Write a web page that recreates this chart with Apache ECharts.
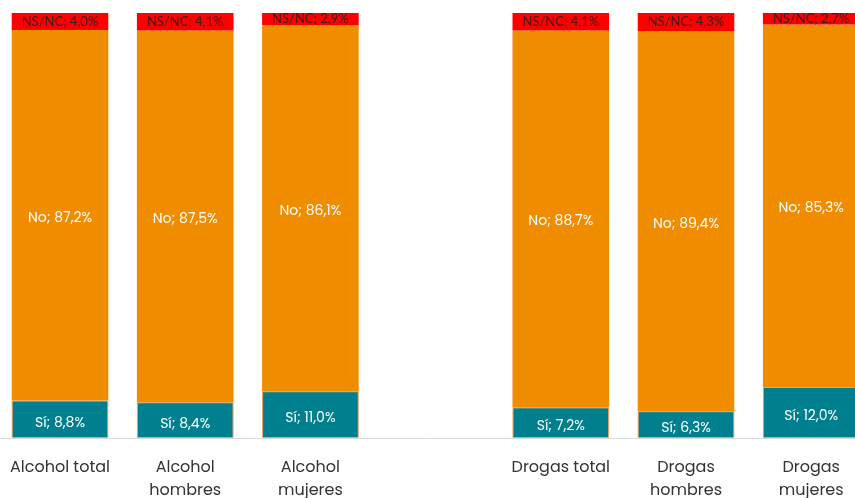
<!DOCTYPE html>
<html>
<head>
<meta charset="utf-8">
<script src="https://cdn.jsdelivr.net/npm/echarts@6/dist/echarts.min.js"></script>
<style>html,body{margin:0;padding:0;background:#fff;}#c{width:855px;height:498px;}</style>
</head>
<body>
<div id="c"></div>
<script>
const categories = ['Alcohol total', 'Alcohol\nhombres', 'Alcohol\nmujeres', '', 'Drogas total', 'Drogas\nhombres', 'Drogas\nmujeres'];
const siValues = [8.8, 8.4, 11.0, null, 7.2, 6.3, 12.0];
const noValues = [87.2, 87.5, 86.1, null, 88.7, 89.4, 85.3];
const nsncValues = [4.0, 4.1, 2.9, null, 4.1, 4.3, 2.7];

const fmt = (name) => (p) => p.value == null ? '' : name + '; ' + p.value.toFixed(1).replace('.', ',') + '%';
const FONT = 'Poppins, Inter, sans-serif';

const chart = echarts.init(document.getElementById('c'));
chart.setOption({
  animation: false,
  grid: { left: -2.6, width: 876.4, top: 13, height: 425, containLabel: false, outerBoundsMode: 'none' },
  xAxis: {
    type: 'category',
    data: categories,
    axisLine: { show: true, lineStyle: { color: '#d9d9d9', width: 1 } },
    axisTick: { show: false },
    axisLabel: { color: '#333', fontSize: 16, fontFamily: FONT, margin: 18, lineHeight: 23, interval: 0 }
  },
  yAxis: { type: 'value', min: 0, max: 100, show: false, splitLine: { show: false } },
  series: [
    {
      name: 'Sí', type: 'bar', stack: 'a', data: siValues, barWidth: 96.6,
      itemStyle: { color: '#00808F', borderColor: '#E9A060', borderWidth: 1 },
      label: { show: true, position: 'inside', offset: [0, 4], color: '#fff', fontSize: 14, fontFamily: FONT, formatter: fmt('Sí') }
    },
    {
      name: 'No', type: 'bar', stack: 'a', data: noValues, barWidth: 96.6,
      itemStyle: { color: '#F08C00' },
      label: { show: true, position: 'inside', offset: [0, 3], color: '#fff', fontSize: 14, fontFamily: FONT, formatter: fmt('No') }
    },
    {
      name: 'NS/NC', type: 'bar', stack: 'a', data: nsncValues, barWidth: 96.6,
      itemStyle: { color: '#FF0000' },
      label: { show: true, position: 'inside', color: '#3a1a1a', fontSize: 13, fontFamily: 'Lato, "Liberation Sans", sans-serif', formatter: fmt('NS/NC') }
    }
  ]
});
</script>
</body>
</html>
